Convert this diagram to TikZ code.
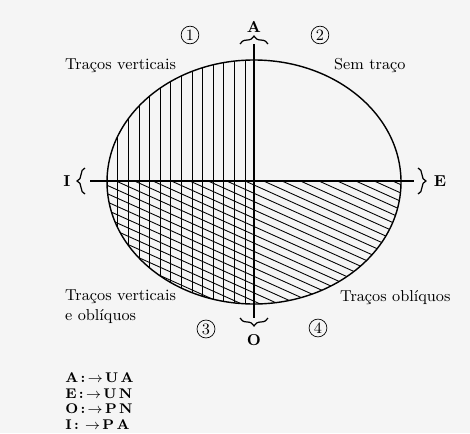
\documentclass[tikz,border=0pt]{standalone}
\usepackage{amsmath}
\usepackage{amssymb}
\usepackage{tikz}
\usetikzlibrary{decorations.pathreplacing,positioning}

\begin{document}
\begin{tikzpicture}[
  x=0.02cm, y=-0.02cm,
  lbl/.style={font=\small, inner sep=1pt, align=left},
  num/.style={draw, circle, inner sep=0.9pt, font=\small},
  pole/.style={font=\small\bfseries, inner sep=1pt},
  brc/.style={decorate, decoration={brace, amplitude=4.5pt}, line width=0.7pt},
  hatch/.style={line width=0.5pt},
  leg/.style={font=\footnotesize\bfseries, anchor=west, inner sep=0pt}
]
\fill[black!4] (0,0) rectangle (470,433);
\useasboundingbox (0,0) rectangle (470,433);

% hatching of the quadrants
\begin{scope}
  \clip (254,182) ellipse [x radius=147, y radius=122];
  \foreach \i in {0,...,13}
    \draw[hatch] ({245-10.6*\i},50) -- ({245-10.6*\i},310);
  \clip (100,181) rectangle (410,310);
  \foreach \k in {-12,...,26}
    \draw[hatch] (100,{185+8.3*\k-0.45*154}) -- (410,{185+8.3*\k+0.45*156});
\end{scope}
\draw[line width=0.8pt] (254,182) ellipse [x radius=147, y radius=122];

% axes
\coordinate (top) at (254,44);
\coordinate (bot) at (254,318);
\coordinate (lft) at (90,181);
\coordinate (rgt) at (414,181);
\draw[line width=0.6pt] (top) -- (bot);
\draw[line width=0.6pt] (lft) -- (rgt);

% braces and poles
\draw[brc] (240,44) -- (268,44);
\draw[brc] (268,318) -- (240,318);
\draw[brc] (85,194) -- (85,168);
\draw[brc] (418,168) -- (418,194);
\node[pole] (A) at (254,27) {A};
\node[pole] (O) at (254,340) {O};
\node[pole] (I) at (67,181) {I};
\node[pole] (E) at (440,181) {E};

% quadrant numbers
\node[num] (q1) at (190,35) {1};
\node[num] (q2) at (320,35) {2};
\node[num] (q3) at (206,329) {3};
\node[num] (q4) at (318,328) {4};

% quadrant labels
\node[lbl, anchor=west] (vert) at (63,66) {Traços verticais};
\node[lbl, anchor=west] (sem) at (332,66) {Sem traço};
\node[lbl, anchor=north west] (vobl) at (63,288) {Traços verticais\\e oblíquos};
\node[lbl, anchor=west] (obl) at (338,298) {Traços oblíquos};

% legend
\node[leg] (la) at (65,378) {A\,:\,$\rightarrow$\,U\,A};
\node[leg] (le) at (65,394) {E\,:\,$\rightarrow$\,U\,N};
\node[leg] (lo) at (65,409) {O\,:\,$\rightarrow$\,P\,N};
\node[leg] (li) at (65,425) {I\,:\;\,$\rightarrow$\,P\,A};
\end{tikzpicture}
\end{document}
